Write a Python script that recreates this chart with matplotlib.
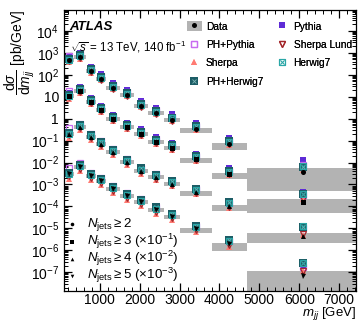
import numpy as np
import matplotlib.pyplot as plt
from matplotlib.lines import Line2D
from matplotlib.patches import Patch
from matplotlib.ticker import FixedLocator, MultipleLocator, LogLocator, FuncFormatter, NullFormatter

plt.rcParams['font.family'] = ['Liberation Sans', 'DejaVu Sans']
plt.rcParams['mathtext.fontset'] = 'custom'
plt.rcParams['mathtext.rm'] = 'Liberation Sans'
plt.rcParams['mathtext.it'] = 'Liberation Sans:italic'
plt.rcParams['mathtext.bf'] = 'Liberation Sans:bold'

# m_jj bin edges [GeV]
bin_edges = [100, 350, 650, 900, 1150, 1500, 1850, 2200, 2600, 3000, 3800, 4700, 7500]

# measured cross sections [pb/GeV], unscaled
data_n2 = [490, 680, 155, 67, 26, 12.6, 3.9, 1.9, 0.9, 0.35, 0.072, 0.0038]
data_n3 = [112, 190, 60, 26, 10, 4.3, 2.1, 0.89, 0.48, 0.15, 0.031, 0.0016]
data_n4 = [21, 43, 15, 7.2, 3.1, 1.1, 0.43, 0.22, 0.11, 0.047, 0.011, 0.00046]
data_n5 = [3.1, 6.5, 2.5, 1.5, 0.63, 0.30, 0.16, 0.069, 0.034, 0.0095, 0.00195, 6.8e-5]
scales = [1, 1e-1, 1e-2, 1e-3]

# relative uncertainty band (up / down)
band_up = [
    [0.2, 0.2, 0.2, 0.2, 0.2, 0.2, 0.2, 0.2, 0.2, 0.1, 0.1, 0.5],
    [0.2, 0.2, 0.2, 0.2, 0.2, 0.2, 0.2, 0.2, 0.2, 0.1, 0.1, 0.4],
    [0.2, 0.2, 0.2, 0.2, 0.2, 0.2, 0.2, 0.2, 0.2, 0.1, 0.1, 0.4],
    [0.2, 0.2, 0.2, 0.2, 0.2, 0.2, 0.2, 0.2, 0.2, 0.1, 0.1, 0.6],
]
band_dn = [
    [0.2, 0.2, 0.2, 0.2, 0.2, 0.2, 0.2, 0.2, 0.25, 0.35, 0.5, 0.87],
    [0.2, 0.2, 0.2, 0.2, 0.2, 0.2, 0.2, 0.2, 0.25, 0.35, 0.45, 0.67],
    [0.2, 0.2, 0.2, 0.2, 0.2, 0.2, 0.2, 0.2, 0.25, 0.35, 0.45, 0.55],
    [0.2, 0.2, 0.2, 0.2, 0.2, 0.2, 0.2, 0.2, 0.25, 0.35, 0.5, 0.92],
]

# prediction / data ratios, one row per jet multiplicity
pythia_ratio = [
    [1.4, 1.45, 1.5, 1.55, 1.6, 1.6, 1.65, 1.7, 1.75, 1.85, 1.9, 3.3],
    [1.35, 1.4, 1.45, 1.5, 1.55, 1.55, 1.6, 1.6, 1.65, 1.7, 1.8, 2.8],
    [1.15, 1.15, 1.2, 1.25, 1.3, 1.3, 1.35, 1.35, 1.4, 1.4, 1.5, 2.2],
    [1.05, 1.1, 1.1, 1.1, 1.15, 1.15, 1.2, 1.2, 1.2, 1.25, 1.3, 2.9],
]
phpythia_ratio = [
    [1.5, 1.35, 1.3, 1.3, 1.3, 1.3, 1.3, 1.3, 1.35, 1.35, 1.4, 2.0],
    [1.6, 1.35, 1.3, 1.3, 1.25, 1.25, 1.25, 1.3, 1.3, 1.3, 1.35, 2.0],
    [1.7, 1.4, 1.35, 1.3, 1.3, 1.3, 1.3, 1.3, 1.3, 1.3, 1.3, 2.2],
    [1.8, 1.5, 1.4, 1.35, 1.3, 1.3, 1.3, 1.3, 1.3, 1.3, 1.3, 2.6],
]
sherpa_ratio = [
    [0.75, 0.8, 0.8, 0.85, 0.85, 0.85, 0.85, 0.85, 0.85, 0.85, 0.9, 1.2],
    [0.7, 0.75, 0.75, 0.8, 0.8, 0.8, 0.8, 0.8, 0.8, 0.8, 0.85, 1.3],
    [0.65, 0.7, 0.7, 0.7, 0.7, 0.7, 0.7, 0.7, 0.75, 0.75, 0.8, 1.1],
    [0.6, 0.65, 0.65, 0.65, 0.65, 0.65, 0.65, 0.65, 0.7, 0.7, 0.75, 1.6],
]
sherpalund_ratio = [
    [0.9, 0.9, 0.9, 0.9, 0.9, 0.9, 0.9, 0.9, 0.9, 0.95, 0.95, 1.1],
    [0.85, 0.85, 0.9, 0.9, 0.9, 0.9, 0.9, 0.9, 0.9, 0.9, 0.95, 1.4],
    [0.85, 0.85, 0.85, 0.85, 0.85, 0.85, 0.85, 0.85, 0.9, 0.9, 0.9, 1.2],
    [0.8, 0.8, 0.8, 0.8, 0.8, 0.8, 0.8, 0.8, 0.85, 0.85, 0.9, 1.7],
]
herwig_ratio = [
    [1.0, 1.1, 1.1, 1.1, 1.1, 1.1, 1.1, 1.1, 1.15, 1.15, 1.2, 1.8],
    [1.0, 1.1, 1.1, 1.1, 1.1, 1.1, 1.1, 1.1, 1.15, 1.15, 1.25, 2.3],
    [1.0, 1.05, 1.1, 1.1, 1.1, 1.1, 1.1, 1.15, 1.15, 1.2, 1.3, 2.8],
    [1.0, 1.05, 1.1, 1.1, 1.1, 1.1, 1.1, 1.15, 1.2, 1.2, 1.3, 4.0],
]
phherwig_ratio = [
    [1.1, 1.15, 1.2, 1.2, 1.2, 1.2, 1.2, 1.2, 1.25, 1.3, 1.3, 1.7],
    [1.1, 1.15, 1.2, 1.2, 1.2, 1.2, 1.2, 1.25, 1.25, 1.3, 1.35, 2.2],
    [1.1, 1.15, 1.2, 1.2, 1.2, 1.2, 1.25, 1.25, 1.3, 1.3, 1.4, 2.6],
    [1.1, 1.15, 1.2, 1.2, 1.2, 1.2, 1.25, 1.3, 1.3, 1.35, 1.45, 3.9],
]

series_labels = [r'$N_{\rm jets} \geq 2$',
                 r'$N_{\rm jets} \geq 3$ ($\times 10^{-1}$)',
                 r'$N_{\rm jets} \geq 4$ ($\times 10^{-2}$)',
                 r'$N_{\rm jets} \geq 5$ ($\times 10^{-3}$)']
series_markers = ['o', 's', '^', 'v']
x_ticks = [1000, 2000, 3000, 4000, 5000, 6000, 7000]
y_ticks = [1e-7, 1e-6, 1e-5, 1e-4, 1e-3, 1e-2, 1e-1, 1, 10, 1e2, 1e3, 1e4]

edges = np.array(bin_edges, dtype=float)
centers = 0.5 * (edges[:-1] + edges[1:])
widths = np.diff(edges)
all_data = [data_n2, data_n3, data_n4, data_n5]

fig = plt.figure(figsize=(3.61, 3.22), dpi=100)
ax = fig.add_axes([0.177, 0.0963, 0.809, 0.8727])

for i, d in enumerate(all_data):
    y = np.array(d) * scales[i]
    lo = y * (1 - np.array(band_dn[i]))
    hi = y * (1 + np.array(band_up[i]))
    ax.bar(edges[:-1], hi - lo, bottom=lo, width=widths, align='edge',
           color='#b3b3b3', linewidth=0, zorder=1)

    ax.plot(centers, y * pythia_ratio[i], 's', color='#5e2bd6', ms=4.6, mew=0, zorder=3)
    ax.plot(centers, y * phpythia_ratio[i], 's', color='#c86bf0', mfc='none', ms=4.4, mew=0.9, zorder=3)
    ax.plot(centers, y * sherpa_ratio[i], '^', color='#ff7b73', ms=4.4, mew=0, zorder=3)
    ax.plot(centers, y * sherpalund_ratio[i], 'v', color='#a3262a', mfc='none', ms=4.4, mew=0.9, zorder=3)
    ax.plot(centers, y * phherwig_ratio[i], 's', color='#1c5d66', ms=5.2, mew=0, zorder=4)
    ax.plot(centers, y * phherwig_ratio[i], 'x', color='#7fb7b7', ms=2.4, mew=0.6, zorder=4)
    ax.plot(centers, y * herwig_ratio[i], 's', color='#2aa7a7', mfc='none', ms=4.6, mew=0.8, zorder=4)
    ax.plot(centers, y * herwig_ratio[i], 'x', color='#2aa7a7', ms=2.6, mew=0.6, zorder=4)
    ax.plot(centers, y, series_markers[i], color='black', ms=3.6, mew=0, zorder=5)

ax.set_yscale('log')
ax.set_xlim(100, 7420)
ax.set_ylim(1.4e-8, 9e4)

ax.xaxis.set_major_locator(FixedLocator(x_ticks))
ax.xaxis.set_minor_locator(MultipleLocator(200))
ax.yaxis.set_major_locator(FixedLocator(y_ticks))
ax.yaxis.set_minor_locator(LogLocator(base=10, subs=np.arange(2, 10), numticks=30))
ax.yaxis.set_minor_formatter(NullFormatter())


def log_fmt(v, pos):
    e = int(round(np.log10(v)))
    if e == 0:
        return '1'
    if e == 1:
        return '10'
    return r'$10^{%d}$' % e


ax.yaxis.set_major_formatter(FuncFormatter(log_fmt))
ax.tick_params(which='both', direction='in', top=True, right=True, labelsize=10)
ax.tick_params(which='major', length=6, width=0.9)
ax.tick_params(which='minor', length=3, width=0.7)
ax.tick_params(axis='x', which='major', pad=1.5)
for s in ax.spines.values():
    s.set_linewidth(0.9)

ax.set_xlabel(r'$m_{jj}$ [GeV]', fontsize=9.5, loc='right')
ax.xaxis.set_label_coords(1.0, -0.05)
ax.set_ylabel(r'$\dfrac{\mathrm{d}\sigma}{\mathrm{d}m_{jj}}$ [pb/GeV]', fontsize=10, loc='top')
ax.yaxis.set_label_coords(-0.092, 1.0)

ax.text(0.02, 0.94, 'ATLAS', transform=ax.transAxes, fontsize=9.5, fontweight='bold',
        fontstyle='italic', va='center')
ax.text(0.02, 0.87, r'$\sqrt{s}$ = 13 TeV, 140 fb$^{-1}$', transform=ax.transAxes,
        fontsize=8.3, va='center')

# generator legend
h_data = (Patch(color='#b3b3b3', lw=0), Line2D([], [], ls='', marker='o', color='black', ms=3.6, mew=0))
h_pyt = Line2D([], [], ls='', marker='s', color='#5e2bd6', ms=4.6, mew=0)
h_php = Line2D([], [], ls='', marker='s', color='#c86bf0', mfc='none', ms=4.4, mew=0.9)
h_she = Line2D([], [], ls='', marker='^', color='#ff7b73', ms=4.4, mew=0)
h_shl = Line2D([], [], ls='', marker='v', color='#a3262a', mfc='none', ms=4.4, mew=0.9)
h_her = (Line2D([], [], ls='', marker='s', color='#2aa7a7', mfc='none', ms=4.6, mew=0.8),
         Line2D([], [], ls='', marker='x', color='#2aa7a7', ms=2.6, mew=0.6))
h_phh = (Line2D([], [], ls='', marker='s', color='#1c5d66', ms=5.2, mew=0),
         Line2D([], [], ls='', marker='x', color='#7fb7b7', ms=2.4, mew=0.6))
leg1 = ax.legend([h_data, h_php, h_she, h_phh, h_pyt, h_shl, h_her],
                 ['Data', 'PH+Pythia', 'Sherpa', 'PH+Herwig7', 'Pythia', 'Sherpa Lund', 'Herwig7'],
                 ncol=2, loc='upper left', bbox_to_anchor=(0.42, 0.96), frameon=False,
                 fontsize=7.3, handlelength=1.5, handleheight=1.1, handletextpad=0.4,
                 columnspacing=1.1, labelspacing=0.8, borderpad=0, borderaxespad=0)
ax.add_artist(leg1)

# jet multiplicity key
key_y = [0.238, 0.176, 0.115, 0.054]
for m, lab, ky in zip(series_markers, series_labels, key_y):
    ax.plot([0.027], [ky], ls='', marker=m, color='black', ms=2.6, mew=0,
            transform=ax.transAxes, zorder=6)
    ax.text(0.078, ky, lab, transform=ax.transAxes, fontsize=9.6, va='center', zorder=6)

fig.savefig('out.png', dpi=100)
